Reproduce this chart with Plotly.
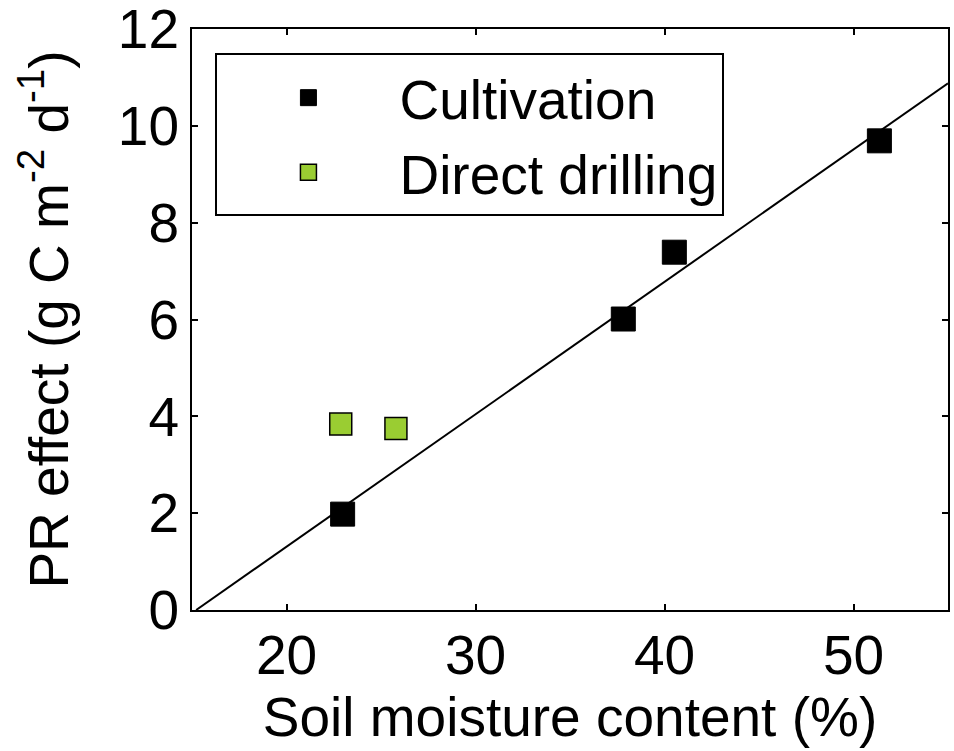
import plotly.graph_objects as go

# Data
cult_x = [22.97, 37.82, 40.52, 51.37]
cult_y = [1.98, 6.01, 7.39, 9.69]
dd_x = [22.87, 25.79]
dd_y = [3.84, 3.75]
fit_x = [15.22, 55.0]
fit_y = [0.0, 10.88]
x_ticks = [20, 30, 40, 50]
y_ticks = [0, 2, 4, 6, 8, 10, 12]

FONT = "Liberation Sans, Arial, sans-serif"

fig = go.Figure()
fig.add_trace(go.Scatter(x=fit_x, y=fit_y, mode="lines",
                         line=dict(color="black", width=2), showlegend=False,
                         hoverinfo="skip"))
fig.add_trace(go.Scatter(x=cult_x, y=cult_y, mode="markers", name="Cultivation",
                         marker=dict(symbol="square", size=24, color="black",
                                     line=dict(color="black", width=1))))
fig.add_trace(go.Scatter(x=dd_x, y=dd_y, mode="markers", name="Direct drilling",
                         marker=dict(symbol="square", size=22, color="#9acd32",
                                     line=dict(color="black", width=1.5))))

axis_common = dict(showline=True, linecolor="black", linewidth=2, mirror="ticks",
                   ticks="inside", ticklen=6, tickwidth=1.5, tickcolor="black",
                   showgrid=False, zeroline=False, ticklabeloverflow="allow",
                   automargin=False,
                   tickfont=dict(family=FONT, size=55, color="black"))

fig.update_layout(
    width=954, height=751,
    margin=dict(l=192, r=6, t=29, b=141),
    paper_bgcolor="white", plot_bgcolor="white",
    font=dict(family=FONT, size=55, color="black"),
    xaxis=dict(range=[15, 55], tickvals=x_ticks, ticklabelstandoff=-4,
               title=dict(text="Soil moisture content (%)",
                          font=dict(family=FONT, size=55), standoff=0),
               **axis_common),
    yaxis=dict(range=[0, 12], tickvals=y_ticks,
               title=dict(text="PR effect (g C m<sup>-2</sup> d<sup>-1</sup>)",
                          font=dict(family=FONT, size=55), standoff=32),
               **axis_common),
    legend=dict(x=0.031, y=0.958, xanchor="left", yanchor="top",
                bgcolor="white", bordercolor="black", borderwidth=2,
                font=dict(family=FONT, size=55, color="black"),
                itemwidth=172, tracegroupgap=0),
    showlegend=True,
)

fig.write_html("out.html")
